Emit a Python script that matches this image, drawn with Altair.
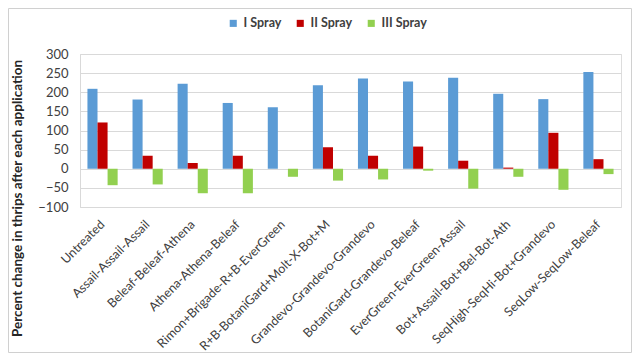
import altair as alt
import pandas as pd

categories = ["Untreated", "Assail-Assail-Assail", "Beleaf-Beleaf-Athena", "Athena-Athena-Beleaf",
              "Rimon+Brigade-R+B-EverGreen", "R+B-BotaniGard+Molt-X-Bot+M", "Grandevo-Grandevo-Grandevo",
              "BotaniGard-Grandevo-Beleaf", "EverGreen-EverGreen-Assail", "Bot+Assail-Bot+Bel-Bot-Ath",
              "SeqHigh-SeqHi-Bot+Grandevo", "SeqLow-SeqLow-Beleaf"]
series = ["I Spray", "II Spray", "III Spray"]
spray1 = [209, 181, 222, 172, 161, 218, 236, 228, 238, 196, 182, 253]
spray2 = [121, 34, 15, 34, 0, 56, 34, 58, 21, 3, 94, 25]
spray3 = [-43, -41, -64, -64, -21, -31, -28, -5, -52, -21, -55, -14]
colors = ["#5B9BD5", "#C00000", "#92D050"]

rows = []
for i, c in enumerate(categories):
    for s, vals in zip(series, [spray1, spray2, spray3]):
        rows.append({"cat": c, "series": s, "value": vals[i]})
df = pd.DataFrame(rows)

font = "Lato"
W, H = 541, 153

bars = alt.Chart(df).mark_bar().encode(
    x=alt.X("cat:N", sort=categories,
            scale=alt.Scale(paddingInner=0.33, paddingOuter=0.165),
            axis=alt.Axis(title=None, labelAngle=-45, labelAlign="right", labelBaseline="middle",
                          labelPadding=15, ticks=False, domain=False, labelFont=font, labelFontSize=12.5,
                          labelColor="#404040", labelLimit=300)),
    xOffset=alt.XOffset("series:N", sort=series, scale=alt.Scale(paddingInner=0, paddingOuter=0)),
    y=alt.Y("value:Q", scale=alt.Scale(domain=[-100, 300], nice=False),
            axis=alt.Axis(values=list(range(-100, 301, 50)), title="Percent change in thrips after each application",
                          titleFont=font, titleFontSize=13.5, titleFontWeight="bold", titleColor="#262626",
                          titleX=-63, titleY=144, titleAngle=-90, titleAlign="center", titleBaseline="middle",
                          labelFont=font, labelFontSize=13, labelColor="#404040", labelPadding=12,
                          ticks=False, domainColor="#D9D9D9", gridColor="#D9D9D9")),
    color=alt.Color("series:N", sort=series, scale=alt.Scale(domain=series, range=colors),
                    legend=alt.Legend(title=None, orient="none", direction="horizontal",
                                      legendX=147, legendY=-37, symbolType="square", symbolSize=50,
                                      symbolStrokeWidth=0, labelFont=font, labelFontSize=12.5,
                                      labelFontWeight="bold", labelColor="#404040", columnPadding=12,
                                      labelOffset=4)),
)

frame = alt.Chart(pd.DataFrame({"a": [0]})).mark_rect(fill=None, stroke="#D0D0D0", strokeWidth=1, clip=False).encode(
    x=alt.value(-71.5), x2=alt.value(W + 10.5), y=alt.value(-45.5), y2=alt.value(H + 145.5)
)

chart = alt.layer(frame, bars).properties(
    width=W, height=H,
    autosize=alt.AutoSizeParams(type="none"),
    padding={"left": 72, "top": 46, "right": 11, "bottom": 147},
).configure_view(stroke=None).configure(background="white")

chart.save("out.html", embed_options={"renderer": "svg", "actions": False})
